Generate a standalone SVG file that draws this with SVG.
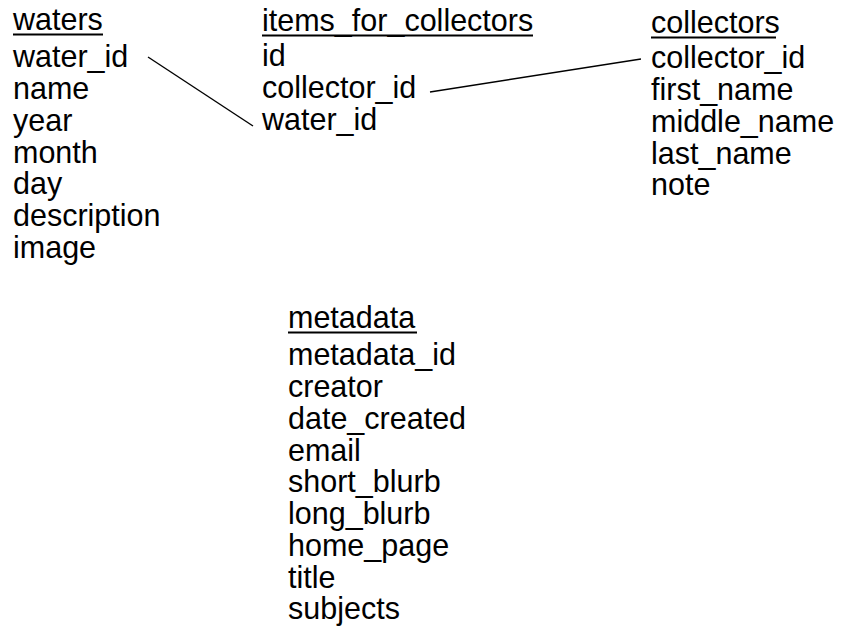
<svg xmlns="http://www.w3.org/2000/svg" width="842" height="626" viewBox="0 0 842 626">
<style>
text{font-family:"Liberation Sans",Arial,sans-serif;font-size:30.5px;fill:#000}
.ul{stroke:#000;stroke-width:2}
.conn line{stroke:#000;stroke-width:1.4}
</style>
<rect width="842" height="626" fill="#fff"/>
<g id="waters">
<text x="13" y="30">waters</text>
<line class="ul" x1="13" y1="34.5" x2="103" y2="34.5"/>
<text x="13" y="67">water_id</text>
<text x="13" y="99">name</text>
<text x="13" y="130.5">year</text>
<text x="13" y="162.5">month</text>
<text x="13" y="194">day</text>
<text x="13" y="226">description</text>
<text x="13" y="258">image</text>
</g>
<g id="items_for_collectors">
<text x="262" y="31">items_for_collectors</text>
<line class="ul" x1="262" y1="35.5" x2="533" y2="35.5"/>
<text x="262" y="66">id</text>
<text x="262" y="98">collector_id</text>
<text x="262" y="129.5">water_id</text>
</g>
<g id="collectors">
<text x="651" y="33">collectors</text>
<line class="ul" x1="651" y1="37.5" x2="776" y2="37.5"/>
<text x="651" y="68">collector_id</text>
<text x="651" y="100">first_name</text>
<text x="651" y="131.5">middle_name</text>
<text x="651" y="163.5">last_name</text>
<text x="651" y="195">note</text>
</g>
<g id="metadata">
<text x="288" y="328">metadata</text>
<line class="ul" x1="288" y1="332.5" x2="417" y2="332.5"/>
<text x="288" y="365">metadata_id</text>
<text x="288" y="397">creator</text>
<text x="288" y="428.5">date_created</text>
<text x="288" y="460.5">email</text>
<text x="288" y="492">short_blurb</text>
<text x="288" y="524">long_blurb</text>
<text x="288" y="556">home_page</text>
<text x="288" y="587.5">title</text>
<text x="288" y="619">subjects</text>
</g>
<g id="connectors" class="conn">
<line x1="148" y1="57" x2="253" y2="126"/>
<line x1="430" y1="92" x2="641" y2="59"/>
</g>
</svg>
